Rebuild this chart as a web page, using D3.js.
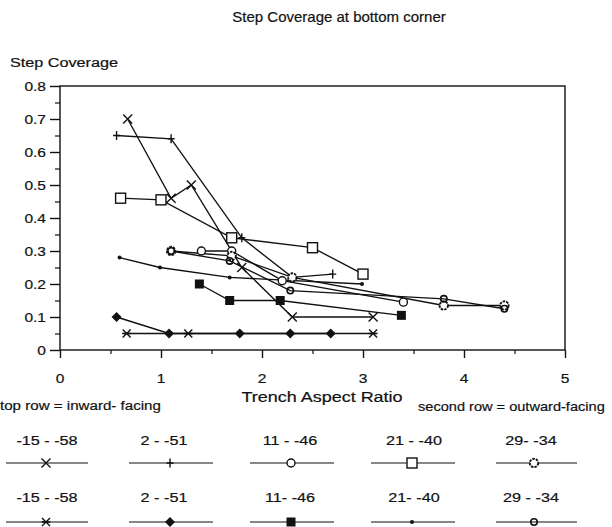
<!DOCTYPE html>
<html>
<head>
<meta charset="utf-8">
<script src="https://cdn.jsdelivr.net/npm/d3@7"></script>
<style>
  body { margin: 0; background: #fff; }
  svg text { font-family: "Liberation Sans", Arial, Helvetica, sans-serif; fill: #111; stroke: #111; stroke-width: 0.2; }
</style>
</head>
<body>
<div class="chart"></div>
<script>
var svgWidth = 612;
var svgHeight = 527;

// series labels (row 1 = inward-facing, row 2 = outward-facing)
var labelsTop = ["-15 - -58", "2 - -51", "11 - -46", "21 - -40", "29- -34"];
var labelsBottom = ["-15 - -58", "2 - -51", "11- -46", "21- -40", "29 - -34"];

// inward-facing
var in15X = [0.67, 1.1, 1.3, 1.8, 2.3, 3.1];
var in15Y = [0.70, 0.46, 0.50, 0.25, 0.10, 0.10];
var in2X = [0.56, 1.1, 1.8, 2.3, 2.7];
var in2Y = [0.65, 0.64, 0.34, 0.22, 0.23];
var in11X = [1.4, 1.7, 2.2, 3.4];
var in11Y = [0.30, 0.30, 0.21, 0.145];
var in21X = [0.6, 1.0, 1.7, 2.5, 3.0];
var in21Y = [0.46, 0.455, 0.34, 0.31, 0.23];
var in29X = [1.1, 1.7, 2.3, 3.8, 4.4];
var in29Y = [0.30, 0.285, 0.22, 0.135, 0.135];

// outward-facing
var out15X = [0.66, 1.27, 3.1];
var out15Y = [0.05, 0.05, 0.05];
var out2X = [0.56, 1.08, 1.78, 2.28, 2.68];
var out2Y = [0.10, 0.05, 0.05, 0.05, 0.05];
var out11X = [1.38, 1.68, 2.18, 3.38];
var out11Y = [0.20, 0.15, 0.15, 0.105];
var out21X = [0.59, 0.99, 1.68, 2.99];
var out21Y = [0.28, 0.25, 0.22, 0.20];
var out29X = [1.1, 1.68, 2.28, 3.8, 4.4];
var out29Y = [0.30, 0.27, 0.18, 0.155, 0.125];

var xTicks = [0, 1, 2, 3, 4, 5];
var yTicks = [0, 0.1, 0.2, 0.3, 0.4, 0.5, 0.6, 0.7, 0.8];

var series = [
  { xs: in15X, ys: in15Y, marker: "x" },
  { xs: in2X, ys: in2Y, marker: "plus" },
  { xs: in11X, ys: in11Y, marker: "ocircle" },
  { xs: in21X, ys: in21Y, marker: "osquare" },
  { xs: in29X, ys: in29Y, marker: "hex" },
  { xs: out15X, ys: out15Y, marker: "xbar" },
  { xs: out2X, ys: out2Y, marker: "fdiamond" },
  { xs: out11X, ys: out11Y, marker: "fsquare" },
  { xs: out21X, ys: out21Y, marker: "dot" },
  { xs: out29X, ys: out29Y, marker: "phi" }
];

var plotLeft = 60, plotRight = 565, plotTop = 86, plotBottom = 350;

var svg = d3.select(".chart")
  .append("svg")
  .attr("width", svgWidth)
  .attr("height", svgHeight);

var x = d3.scaleLinear().domain([0, 5]).range([plotLeft, plotRight]);
var y = d3.scaleLinear().domain([0, 0.8]).range([plotBottom, plotTop]);

// the scanned original has slightly wide lettering, so texts get a small horizontal stretch
function addText(px, py, str, size, anchor, stretch) {
  return svg.append("text")
    .attr("transform", `translate(${px},${py}) scale(${stretch || 1},1)`)
    .attr("text-anchor", anchor || "start")
    .attr("font-size", size)
    .text(str);
}

// titles
addText(339, 22, "Step Coverage at bottom corner", 15, "middle", 1);
addText(10, 67, "Step Coverage", 13.5, "start", 1.2);

// frame
svg.append("rect")
  .attr("x", plotLeft).attr("y", plotTop)
  .attr("width", plotRight - plotLeft).attr("height", plotBottom - plotTop)
  .attr("fill", "none").attr("stroke", "#111").attr("stroke-width", 1.4);

// y axis
var yAxis = svg.append("g")
  .attr("transform", `translate(${plotLeft},0)`)
  .call(d3.axisLeft(y).tickValues(yTicks).tickSize(10).tickSizeOuter(0).tickFormat(""));
yAxis.select(".domain").remove();
yAxis.selectAll("line").attr("stroke", "#111").attr("stroke-width", 1.4);

var yMinor = svg.append("g")
  .attr("transform", `translate(${plotLeft},0)`)
  .call(d3.axisLeft(y).tickValues(d3.range(0.05, 0.8, 0.1)).tickSize(5).tickFormat(""));
yMinor.select(".domain").remove();
yMinor.selectAll("line").attr("stroke", "#111").attr("stroke-width", 1.2);

yTicks.forEach(function(t) {
  addText(46, y(t) + 5, t === 0 ? "0" : d3.format(".1f")(t), 13.5, "end", 1.15);
});

// x axis
var xAxis = svg.append("g")
  .attr("transform", `translate(0,${plotBottom})`)
  .call(d3.axisBottom(x).tickValues(xTicks).tickSize(8).tickSizeOuter(0).tickFormat(""));
xAxis.select(".domain").remove();
xAxis.selectAll("line").attr("stroke", "#111").attr("stroke-width", 1.4);

var xMinor = svg.append("g")
  .attr("transform", `translate(0,${plotBottom})`)
  .call(d3.axisBottom(x).tickValues([0.5, 1.5, 2.5, 3.5, 4.5]).tickSize(4).tickFormat(""));
xMinor.select(".domain").remove();
xMinor.selectAll("line").attr("stroke", "#111").attr("stroke-width", 1.2);

xTicks.forEach(function(t) {
  addText(x(t), 383, String(t), 13.5, "middle", 1.15);
});

addText(322, 402, "Trench Aspect Ratio", 15, "middle", 1.2);

// marker drawing
function drawMarker(g, type, cx, cy) {
  var m = g.append("g").attr("transform", `translate(${cx},${cy})`);
  var s = "#111";
  if (type === "x") {
    m.append("path").attr("d", "M-4.5,-4.5L4.5,4.5M-4.5,4.5L4.5,-4.5").attr("stroke", s).attr("stroke-width", 1.4);
  } else if (type === "plus") {
    m.append("path").attr("d", "M0,-4.5V4.5M-3.5,0H3.5").attr("stroke", s).attr("stroke-width", 1.4);
  } else if (type === "ocircle") {
    m.append("circle").attr("r", 4).attr("fill", "#fff").attr("stroke", s).attr("stroke-width", 1.4);
  } else if (type === "osquare") {
    m.append("rect").attr("x", -5).attr("y", -5).attr("width", 10).attr("height", 10)
      .attr("fill", "#fff").attr("stroke", s).attr("stroke-width", 1.4);
  } else if (type === "hex") {
    m.append("path").attr("d", d3.symbol().type(d3.symbolCircle).size(55)())
      .attr("fill", "#fff").attr("stroke", s).attr("stroke-width", 1.9).attr("stroke-dasharray", "2.5,1");
  } else if (type === "xbar") {
    m.append("path").attr("d", "M-4,-4L4,4M-4,4L4,-4M-4.5,0H4.5").attr("stroke", s).attr("stroke-width", 1.4);
  } else if (type === "fdiamond") {
    m.append("path").attr("d", "M0,-5L5,0L0,5L-5,0Z").attr("fill", s);
  } else if (type === "fsquare") {
    m.append("rect").attr("x", -4.5).attr("y", -4.5).attr("width", 9).attr("height", 9).attr("fill", s);
  } else if (type === "dot") {
    m.append("circle").attr("r", 2).attr("fill", s);
  } else if (type === "phi") {
    m.append("circle").attr("r", 3.2).attr("fill", "none").attr("stroke", s).attr("stroke-width", 1.6);
  }
}

var line = d3.line().x(d => x(d[0])).y(d => y(d[1]));
var plot = svg.append("g");

series.forEach(function(sr) {
  var pts = sr.xs.map((v, i) => [v, sr.ys[i]]);
  plot.append("path")
    .attr("d", line(pts))
    .attr("fill", "none")
    .attr("stroke", "#111")
    .attr("stroke-width", 1.35);
});
series.forEach(function(sr) {
  sr.xs.forEach(function(v, i) {
    drawMarker(plot, sr.marker, x(v), y(sr.ys[i]));
  });
});

// legend
addText(0, 410, "top row = inward- facing", 13.5, "start", 1.12);
addText(418, 411, "second row =  outward-facing", 13.5, "start", 1.08);

var legCenters = [46, 170, 291, 412, 534];
var legStarts = [6, 129, 250, 371, 496];
var legEnds = [88, 213, 334, 455, 577];
var labelCenters = [47, 164, 290, 414, 531];

[0, 1].forEach(function(row) {
  var labels = row === 0 ? labelsTop : labelsBottom;
  var ty = row === 0 ? 445 : 502;
  var ly = row === 0 ? 463 : 522;
  labels.forEach(function(lbl, i) {
    addText(labelCenters[i], ty, lbl, 13.5, "middle", 1.2);
    svg.append("line")
      .attr("x1", legStarts[i]).attr("x2", legEnds[i])
      .attr("y1", ly).attr("y2", ly)
      .attr("stroke", "#111").attr("stroke-width", 1.2);
    drawMarker(svg, series[row * 5 + i].marker, legCenters[i], ly);
  });
});
</script>
</body>
</html>
